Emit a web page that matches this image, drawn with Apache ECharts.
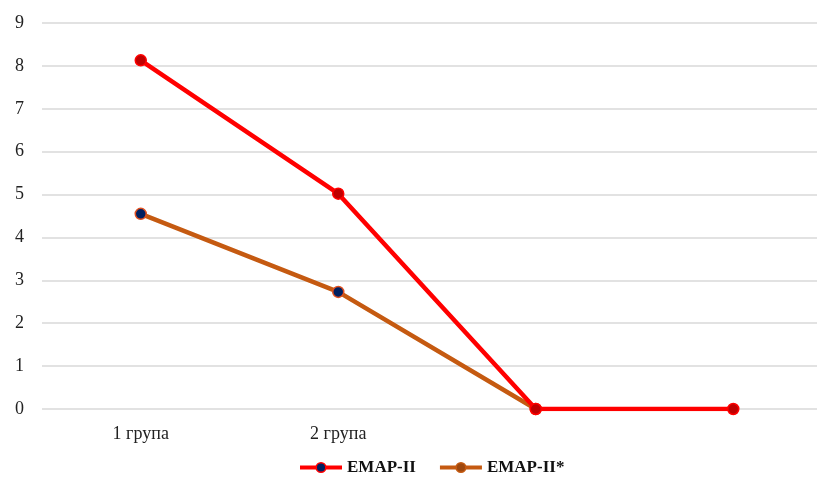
<!DOCTYPE html>
<html>
<head>
<meta charset="utf-8">
<script src="https://cdn.jsdelivr.net/npm/echarts@6/dist/echarts.min.js"></script>
<style>
html,body{margin:0;padding:0;background:#fff;overflow:hidden;}
#chart{width:817px;height:478px;}
</style>
</head>
<body>
<div id="chart"></div>
<script>
const categories = ['1 група', '2 група', '', ''];
const emap2 = [8.13, 5.02, 0, 0];
const emap2star = [4.55, 2.73, 0, null];
const yTicks = { min: 0, max: 9, interval: 1 };

const chart = echarts.init(document.getElementById('chart'), null, { renderer: 'canvas' });
const font = '"Liberation Serif", "Times New Roman", serif';
chart.setOption({
  animation: false,
  backgroundColor: '#ffffff',
  grid: { left: 42, width: 790, top: 23, height: 386, outerBoundsMode: 'none', containLabel: false },
  xAxis: {
    type: 'category',
    data: categories,
    boundaryGap: true,
    axisLine: { show: false },
    axisTick: { show: false },
    axisLabel: { color: '#222', fontFamily: font, fontSize: 18, margin: 16 }
  },
  yAxis: {
    type: 'value',
    min: yTicks.min, max: yTicks.max, interval: yTicks.interval,
    axisLine: { show: false },
    axisTick: { show: false },
    axisLabel: { color: '#222', fontFamily: font, fontSize: 18, margin: 18 },
    splitLine: { lineStyle: { color: '#d9d9d9', width: 1.5 } }
  },
  legend: {
    top: 454,
    left: 293,
    itemWidth: 42,
    itemHeight: 12,
    itemGap: 22,
    textStyle: { fontFamily: font, fontSize: 17, fontWeight: 'bold', color: '#111' },
    data: [
      { name: 'EMAP-II', itemStyle: { color: '#002060', borderColor: '#ff0000', borderWidth: 1.5 }, lineStyle: { color: '#ff0000', width: 4 } },
      { name: 'EMAP-II*', itemStyle: { color: '#9e480e', borderColor: '#c55a11', borderWidth: 1.5 }, lineStyle: { color: '#c55a11', width: 4 } }
    ]
  },
  series: [
    {
      name: 'EMAP-II',
      type: 'line',
      data: emap2,
      z: 3,
      symbol: 'circle',
      symbolSize: 11,
      lineStyle: { color: '#ff0000', width: 4.5 },
      itemStyle: { color: '#c00000', borderColor: '#ff0000', borderWidth: 1.5 }
    },
    {
      name: 'EMAP-II*',
      type: 'line',
      data: emap2star,
      z: 2,
      symbol: 'circle',
      symbolSize: 11,
      lineStyle: { color: '#c55a11', width: 4.5 },
      itemStyle: { color: '#002060', borderColor: '#e05020', borderWidth: 1.5 }
    }
  ]
});
</script>
</body>
</html>
